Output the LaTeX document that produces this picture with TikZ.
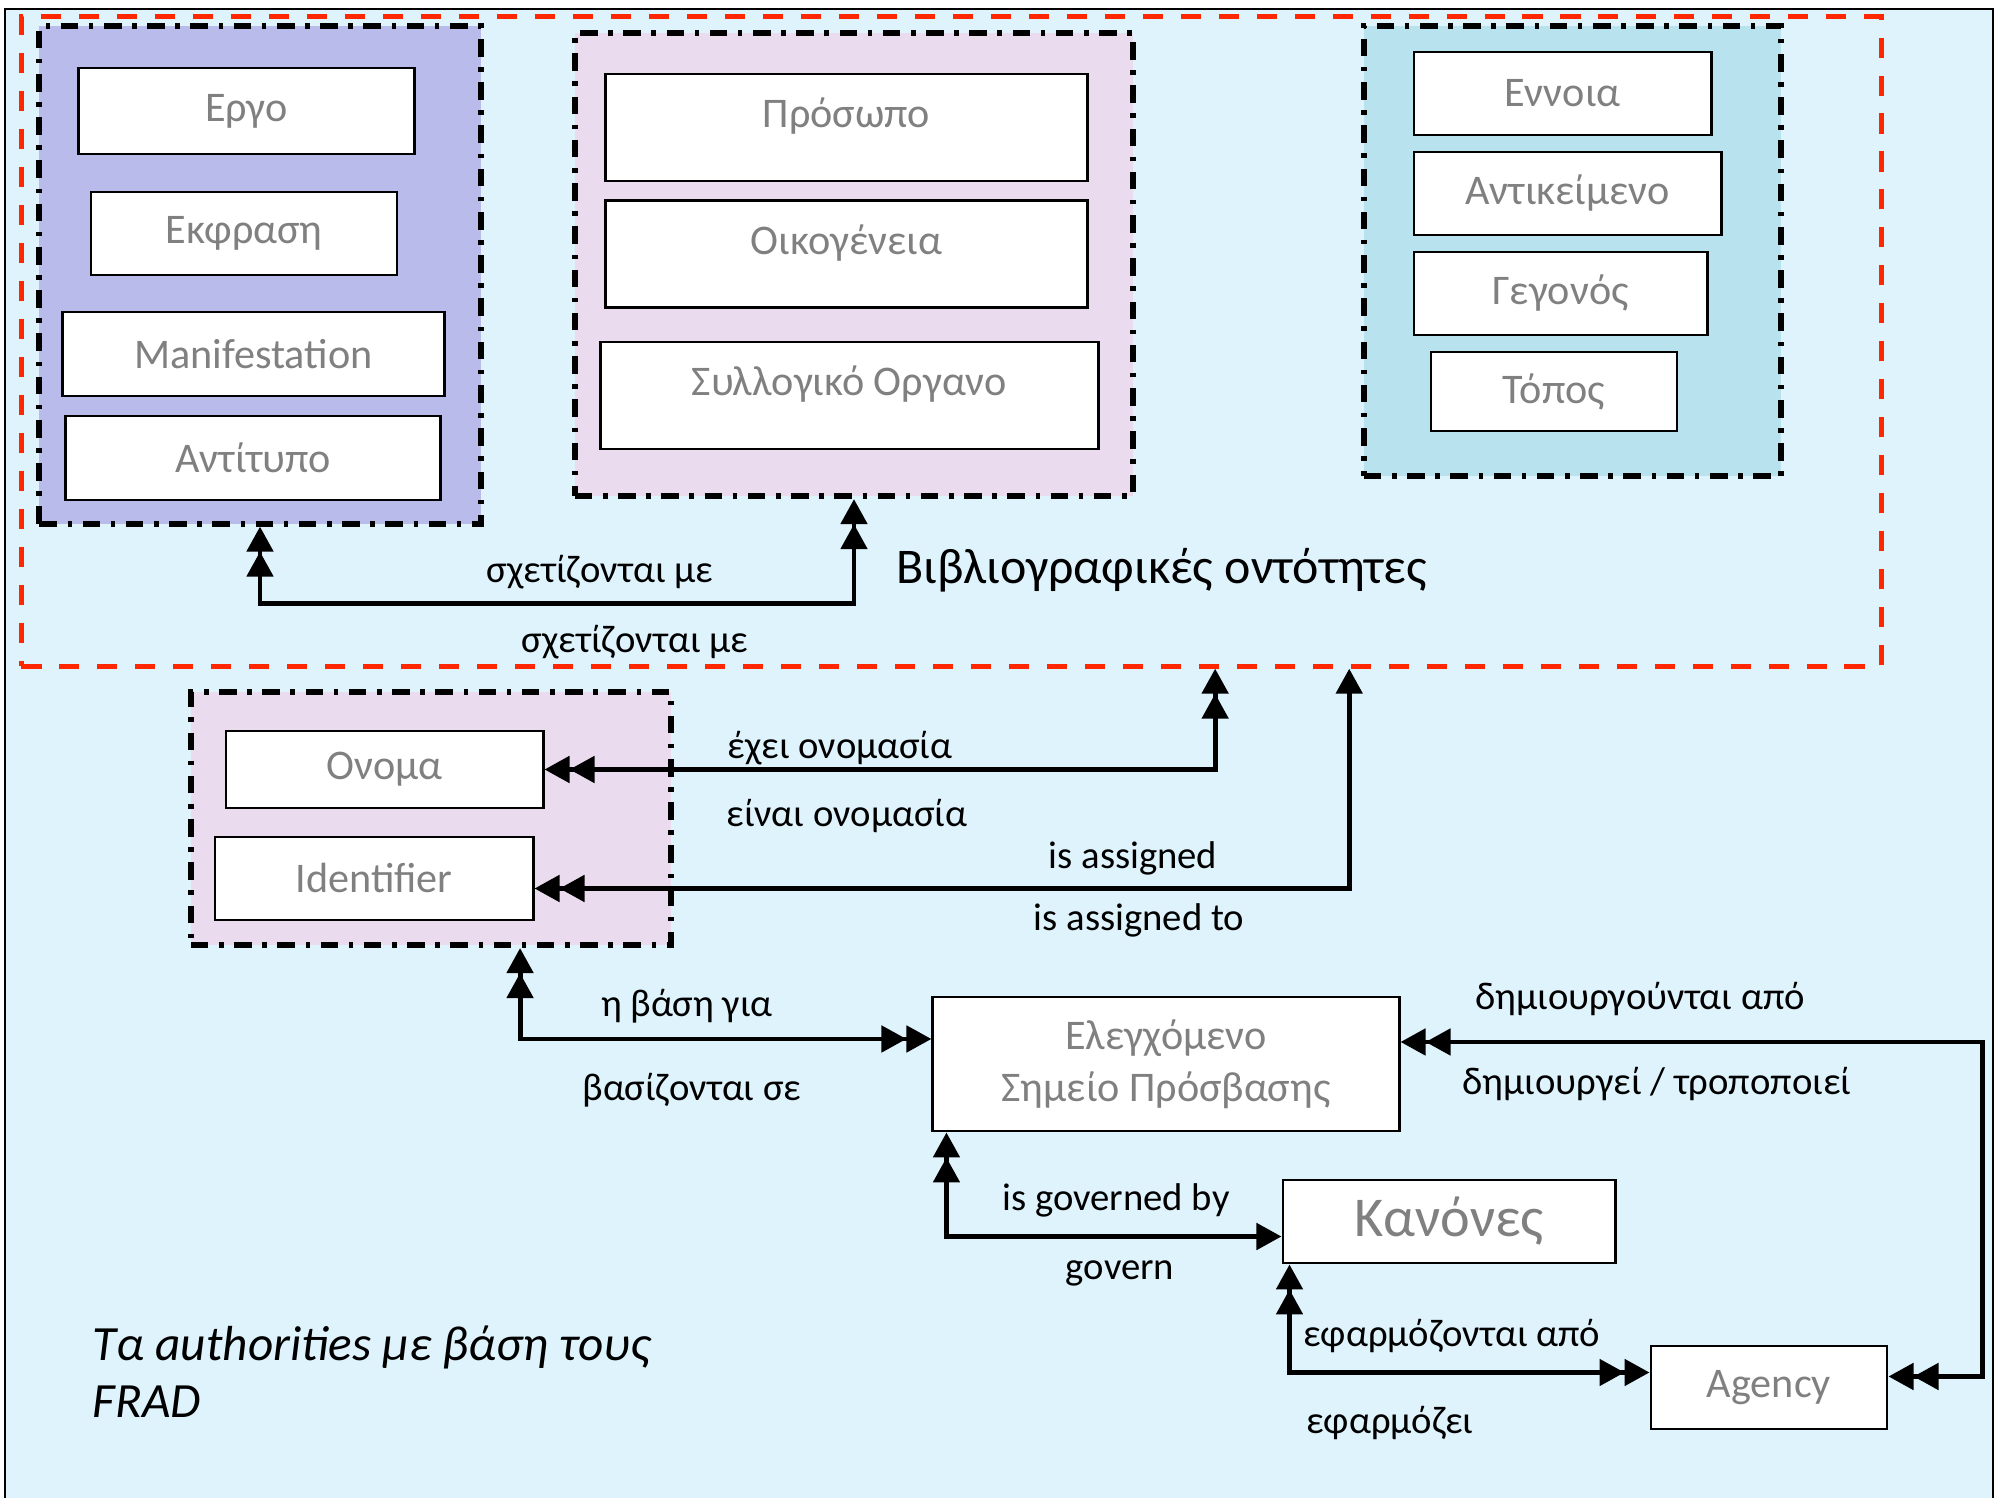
\documentclass[tikz,border=0pt]{standalone}
\usepackage{fontspec}
\setmainfont{Carlito}
\usepackage{tikz}
\usetikzlibrary{arrows.meta}
\definecolor{bgblue}{RGB}{223,243,253}
\definecolor{grpblue}{RGB}{185,187,234}
\definecolor{grppink}{RGB}{234,220,238}
\definecolor{grpteal}{RGB}{183,226,238}
\definecolor{redline}{RGB}{255,38,0}
\definecolor{boxgray}{RGB}{128,128,128}
\tikzset{
    >={Triangle[length=0.25cm,width=0.26cm]},
    block/.style = {
        draw,
        shape=rectangle,
        fill=white,
        line width=0.8pt,
        inner sep=0pt,
        text=boxgray,
        font=\fontsize{12}{14.8}\selectfont
    },
    topblock/.style = {
        block,
        text height=0.54cm,
        text depth=0.53cm
    },
    group/.style = {
        draw,
        shape=rectangle,
        line width=1.7pt,
        dash pattern=on 5pt off 3pt on 1.3pt off 3pt
    },
    entities/.style = {
        draw=redline,
        shape=rectangle,
        line width=1.4pt,
        dash pattern=on 5.7pt off 5.1pt
    },
    rel/.style = {
        inner sep=0pt,
        font=\fontsize{11}{13}\selectfont
    },
    link/.style = {
        draw,
        line width=1.4pt
    },
}
\begin{document}
\begin{tikzpicture}[x=0.01cm, y=-0.01cm]
                \useasboundingbox (0,0) rectangle (1999,1498);
                \path[fill=bgblue] (5,9) rectangle (1993,1510);
                \path[draw, line width=0.8pt] (5,1510) |- (1993,9) -- (1993,1510);

                \node[entities, minimum width=18.59cm, minimum height=6.49cm] (ents) at (951.5,341.5) {};

                \node[group, fill=grpblue, minimum width=4.41cm, minimum height=4.97cm] (works) at (260,275) {};
                \node[group, fill=grppink, minimum width=5.58cm, minimum height=4.63cm] (persons) at (854,264.5) {};
                \node[group, fill=grpteal, minimum width=4.17cm, minimum height=4.50cm] (concepts) at (1572.5,251) {};
                \node[group, fill=grppink, minimum width=4.80cm, minimum height=2.53cm] (namegrp) at (431,818.5) {};

                \node[block, minimum width=3.35cm, minimum height=0.86cm] (ergo) at (246.5,111) {Εργο};
                \node[block, minimum width=3.06cm, minimum height=0.83cm] (ekfr) at (244,233.5) {Εκφραση};
                \node[block, minimum width=3.81cm, minimum height=0.84cm] (manif) at (253.5,354) {Manifestation};
                \node[block, minimum width=3.74cm, minimum height=0.84cm] (antit) at (253,458) {Αντίτυπο};

                \node[topblock, minimum width=4.81cm] (proso) at (846.5,127.5) {Πρόσωπο};
                \node[topblock, minimum width=4.81cm] (oikog) at (846.5,254) {Οικογένεια};
                \node[topblock, minimum width=4.97cm] (syllog) at (849.5,395.5) {Συλλογικό Οργανο};

                \node[block, minimum width=2.97cm, minimum height=0.83cm] (ennoia) at (1562.5,93.5) {Εννοια};
                \node[block, minimum width=3.07cm, minimum height=0.83cm] (antik) at (1567.5,193.5) {Αντικείμενο};
                \node[block, minimum width=2.93cm, minimum height=0.83cm] (gegon) at (1560.5,293.5) {Γεγονός};
                \node[block, minimum width=2.46cm, minimum height=0.79cm] (topos) at (1554,391.5) {Τόπος};

                \node[block, minimum width=3.17cm, minimum height=0.77cm] (onoma) at (384.5,769.5) {Ονομα};
                \node[block, minimum width=3.18cm, minimum height=0.83cm] (ident) at (374,878.5) {Identifier};
                \node[block, minimum width=4.66cm, minimum height=1.34cm, align=center] (elegx) at (1166,1064) {Ελεγχόμενο\\Σημείο Πρόσβασης};
                \node[block, minimum width=3.32cm, minimum height=0.83cm, font=\fontsize{16}{19}\selectfont] (kanones) at (1449,1221.5) {Κανόνες};
                \node[block, minimum width=2.36cm, minimum height=0.83cm] (agency) at (1769,1387.5) {Agency};

                \node[anchor=west, inner sep=0pt, font=\fontsize{14.2}{17}\selectfont] (enttitle) at (896,570) {Βιβλιογραφικές οντότητες};
                \node[anchor=west, align=left, inner sep=0pt, font=\itshape\fontsize{14}{16.3}\selectfont] (frad) at (92,1372) {Τα authorities με βάση τους\\FRAD};

                \path[link, <<->>] (works.south) -- ++(0,77) -| (persons.south);
                \path[link, <<->>] (onoma.east) -| ([xshift=2.635cm]ents.south);
                \path[link, <<->] ([yshift=-0.1cm]ident.east) -| ([xshift=3.975cm]ents.south);
                \path[link, <<->>] ([xshift=0.89cm]namegrp.south) |- ([yshift=0.25cm]elegx.west);
                \path[link, <<->>] ([yshift=0.22cm]elegx.east) -- ++(582,0) |- ([yshift=0.11cm]agency.east);
                \path[link, <<->] ([xshift=0.15cm]elegx.south west) |- ([yshift=-0.15cm]kanones.west);
                \path[link, <<->>] ([xshift=0.08cm]kanones.south west) |- ([yshift=0.15cm]agency.west);

                \node[rel] (relA) at (600,572) {σχετίζονται με};
                \node[rel] (relB) at (635,642) {σχετίζονται με};
                \node[rel] (nameA) at (840,748) {έχει ονομασία};
                \node[rel] (nameB) at (847,816) {είναι ονομασία};
                \node[rel] (assA) at (1133,858) {is assigned};
                \node[rel] (assB) at (1139,920) {is assigned to};
                \node[rel] (basA) at (687,1006) {η βάση για};
                \node[rel] (basB) at (692,1090) {βασίζονται σε};
                \node[rel] (creA) at (1640,999) {δημιουργούνται από};
                \node[rel] (creB) at (1657,1084) {δημιουργεί / τροποποιεί};
                \node[rel] (govA) at (1116,1200) {is governed by};
                \node[rel] (govB) at (1120,1273) {govern};
                \node[rel] (appA) at (1452,1336) {εφαρμόζονται από};
                \node[rel] (appB) at (1390,1423) {εφαρμόζει};
\end{tikzpicture}
\end{document}
